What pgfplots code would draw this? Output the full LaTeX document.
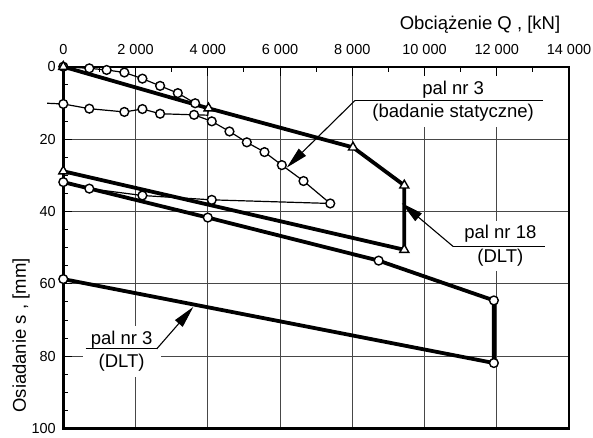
\documentclass[border=0pt]{standalone}
\usepackage{fontspec}
\setmainfont{Liberation Sans}
\usepackage{pgfplots}
\pgfplotsset{compat=1.18}
\usetikzlibrary{arrows.meta}

\tikzset{
  thinline/.style={line width=1.2pt, black},
  thickline/.style={line width=3.8pt, black},
  circ/.style={only marks, mark=*, mark size=4.4pt, mark options={fill=white, draw=black, line width=1.4pt}},
  tri/.style={only marks, mark=triangle*, mark size=5.2pt, mark options={fill=white, draw=black, line width=1.4pt}},
  lead/.style={line width=1.1pt, -{Triangle[length=22pt,width=10pt]}},
  lbl/.style={fill=white, align=center, inner xsep=8pt, inner ysep=5pt, font=\fontsize{18.5}{23.3}\selectfont},
}

\begin{document}
\begin{tikzpicture}
\begin{axis}[
    name=ax,
    scale only axis,
    width=505.7pt, height=361.8pt,
    xmin=0, xmax=14000,
    ymin=0, ymax=100,
    y dir=reverse,
    clip=false,
    axis line style={line width=2.4pt},
    scaled x ticks=false,
    xtick={0,2000,...,14000},
    xticklabels={0,2 000,4 000,6 000,8 000,10 000,12 000,14 000},
    minor x tick num=1,
    ytick={0,20,...,100},
    minor y tick num=3,
    xtick pos=right, xticklabel pos=right,
    ytick pos=left, yticklabel pos=left,
    grid=major,
    major grid style={line width=0.8pt, black!72},
    major tick length=9pt, minor tick length=5pt,
    tick style={line width=0.9pt, black},
    ticklabel style={font=\fontsize{14.5}{16}\selectfont},
    xticklabel style={yshift=9pt},
    yticklabel style={xshift=-4pt},
    /pgf/number format/assume math mode=true,
]
% pal nr 3, badanie statyczne: obciazenie i odciazenie
\addplot[thinline] coordinates {
(0,0) (720,0.45) (1200,0.9) (1690,1.6) (2190,3.3) (2680,5.3) (3170,7.3) (3650,10.1)
(4020,11.8) (4000,13.4) (3620,13.3) (2680,13.0) (2190,11.7) (1690,12.5) (720,11.6)
(0,10.3) (-450,10.1)
};
\addplot[thinline] coordinates {
(3620,13.3) (4110,15.1) (4600,17.9) (5080,20.9) (5570,23.6) (6050,27.2) (6650,31.6)
(7390,37.8) (4110,36.8) (2190,35.6) (720,33.7) (0,31.8)
};
% pal nr 18, DLT
\addplot[thickline] coordinates {
(0,0) (4020,11.5) (8020,22.3) (9440,32.8) (9440,50.6) (0,28.9)
};
% pal nr 3, DLT
\addplot[thickline] coordinates {
(0,31.9) (4000,41.7) (8730,53.6) (11920,64.6) (11920,81.9) (0,58.7)
};
% znaczniki
\addplot[circ] coordinates {
(0,0) (720,0.45) (1200,0.9) (1690,1.6) (2190,3.3) (2680,5.3) (3170,7.3) (3650,10.1)
(3620,13.3) (2680,13.0) (2190,11.7) (1690,12.5) (720,11.6) (0,10.3)
(4110,15.1) (4600,17.9) (5080,20.9) (5570,23.6) (6050,27.2) (6650,31.6) (7390,37.8)
(4110,36.8) (2190,35.6) (720,33.7)
};
\addplot[circ] coordinates {
(0,31.9) (4000,41.7) (8730,53.6) (11920,64.6) (11920,81.9) (0,58.7)
};
\addplot[tri] coordinates {
(0,0) (4020,11.5) (8020,22.3) (9440,32.8) (9440,50.6) (0,28.9)
};

% opisy
\node[lbl] at (axis cs:10794,9.6) {pal nr 3\\(badanie statyczne)};
\draw[line width=1pt] (axis cs:13286,9.35) -- (axis cs:8074,9.35);
\draw[lead] (axis cs:8074,9.35) -- (axis cs:6185,27.9);

\node[lbl] at (axis cs:12100,49.5) {pal nr 18\\(DLT)};
\draw[line width=1pt] (axis cs:13333,49.7) -- (axis cs:10794,49.7);
\draw[lead] (axis cs:10794,49.7) -- (axis cs:9369,37.7);

\node[lbl] at (axis cs:1616,78.7) {pal nr 3\\(DLT)};
\draw[line width=1pt] (axis cs:620,78.0) -- (axis cs:2585,78.0);
\draw[lead] (axis cs:2585,78.0) -- (axis cs:3599,66.4);

\node[font=\fontsize{18.5}{22}\selectfont] at ([yshift=42pt]axis cs:11536,0) {Obciążenie Q , [kN]};
\node[rotate=90, font=\fontsize{18.5}{22}\selectfont] at ([xshift=-42.3pt]axis cs:0,74.3) {Osiadanie s , [mm]};
\end{axis}
\pgfresetboundingbox
\path ([shift={(-63.3pt,-8.5pt)}]ax.south west) rectangle ([shift={(24pt,66.7pt)}]ax.north east);
\end{tikzpicture}
\end{document}
